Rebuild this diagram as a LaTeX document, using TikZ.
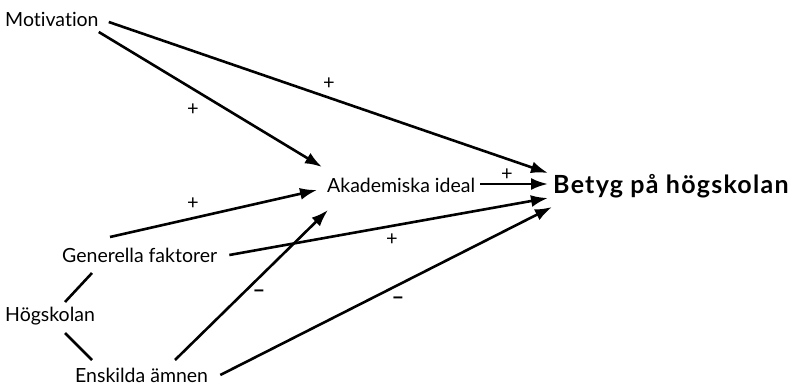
\documentclass[tikz,border=0pt]{standalone}
\usepackage{fontspec}
\setmainfont{Lato}[Ligatures={NoCommon,NoContextual}]
\usetikzlibrary{arrows.meta}

\begin{document}
\begin{tikzpicture}[x=1pt,y=-1pt,
    faktor/.style={anchor=west,inner sep=0pt,font=\fontsize{19.5}{24}\selectfont},
    pil/.style={line width=2.6pt,-{Latex[length=17pt,width=12pt]}},
    linje/.style={line width=2.6pt},
    tecken/.style={inner sep=0pt,font=\fontsize{20}{22}\selectfont}]
    \useasboundingbox (0,0) rectangle (802,385);
    \node[faktor] (mot) at (5,19) {Motivation};
    \node[faktor] (akad) at (327,185) {Akademiska ideal};
    \node[faktor,font=\fontsize{25}{29}\selectfont\bfseries\addfontfeatures{LetterSpace=5}] (betyg) at (553,186) {Betyg på högskolan};
    \node[faktor] (gen) at (62,255) {Generella faktorer};
    \node[faktor] (hog) at (5,316) {Högskolan};
    \node[faktor] (ensk) at (75,375) {Enskilda ämnen};
    \draw[pil] ([shift={(10,3)}]mot.east) -- ([shift={(-5,-13)}]betyg.west);
    \draw[pil] ([shift={(0,13)}]mot.east) -- ([shift={(-5,-18)}]akad.west);
    \draw[pil] ([shift={(5,-1)}]akad.east) -- ([shift={(-5,-2)}]betyg.west);
    \draw[pil] ([shift={(48,-18)}]gen.west) -- ([shift={(-10,5)}]akad.west);
    \draw[pil] ([shift={(12,0)}]gen.east) -- ([shift={(-5,12)}]betyg.west);
    \draw[pil] ([shift={(100,-15)}]ensk.west) -- ([shift={(1,25)}]akad.west);
    \draw[pil] ([shift={(12,0)}]ensk.east) -- ([shift={(-1,21)}]betyg.west);
    \draw[linje] ([shift={(60,-14)}]hog.west) -- ([shift={(30,18)}]gen.west);
    \draw[linje] ([shift={(60,17)}]hog.west) -- ([shift={(17,-15)}]ensk.west);
    \node[tecken] (p1) at (329,84) {+};
    \node[tecken] (p2) at (193,110) {+};
    \node[tecken] (p3) at (193,204) {+};
    \node[tecken] (p4) at (392,240) {+};
    \node[tecken] (p5) at (507,175) {+};
    \node[tecken,font=\fontsize{22}{24}\selectfont\bfseries] (m1) at (259,294) {–};
    \node[tecken,font=\fontsize{22}{24}\selectfont\bfseries] (m2) at (398,301) {–};
\end{tikzpicture}
\end{document}
